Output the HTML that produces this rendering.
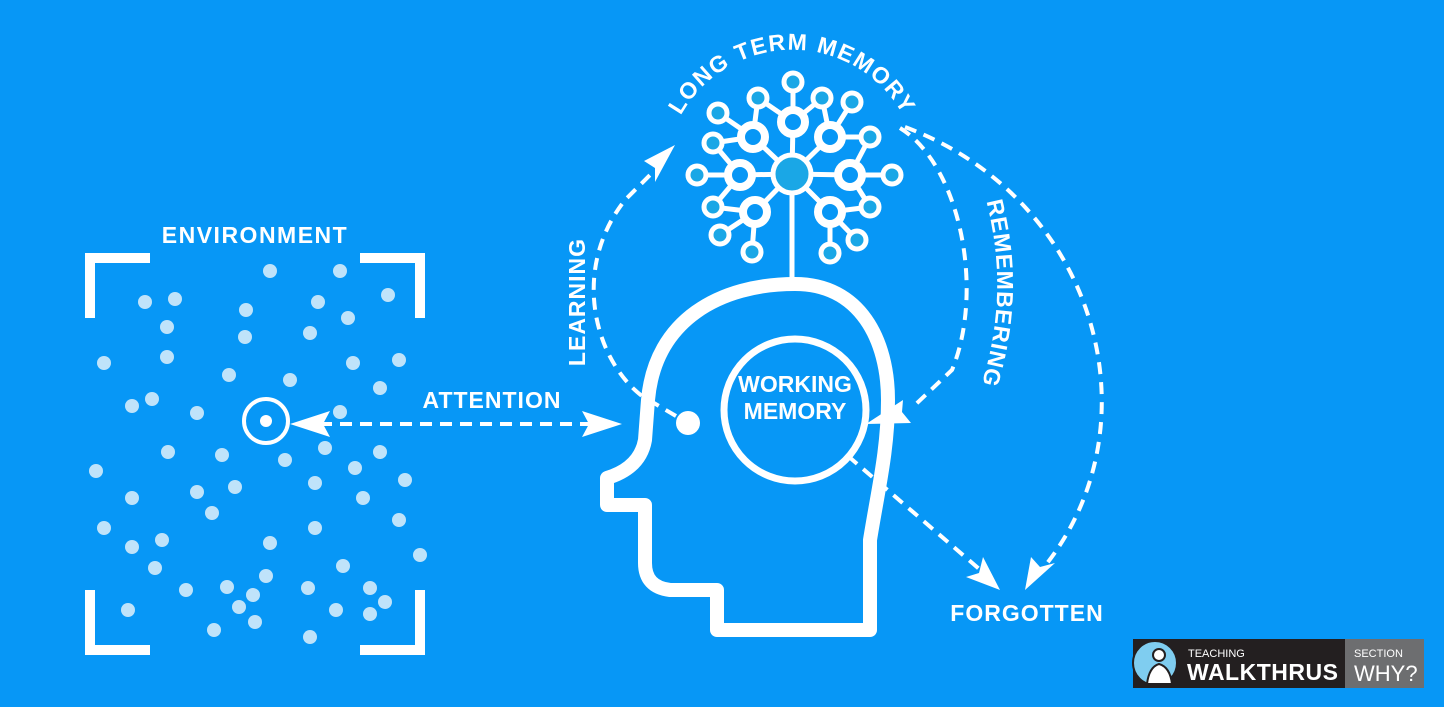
<!DOCTYPE html>
<html><head><meta charset="utf-8"><style>
html,body{margin:0;padding:0;background:#0797f6;}
svg{display:block;}
text{font-family:"Liberation Sans",sans-serif;font-weight:bold;fill:#fff;}
</style></head><body>
<svg width="1444" height="707" viewBox="0 0 1444 707" xmlns="http://www.w3.org/2000/svg">
<rect width="1444" height="707" fill="#0797f6"/>
<defs>
<path id="ltm" d="M 684,110 A 127,127 0 0 1 900,110"/>
<path id="rem" d="M 985,196 C 1002,260 1002,320 980,390"/>
</defs>
<!-- Environment -->
<text x="255" y="243" font-size="23" text-anchor="middle" letter-spacing="1.5">ENVIRONMENT</text>
<g stroke="#fff" stroke-width="10" fill="none">
<path d="M90,318 V258 H150"/><path d="M360,258 H420 V318"/>
<path d="M90,590 V650 H150"/><path d="M360,650 H420 V590"/>
</g>
<g fill="#bfe3fa">
<circle cx="270" cy="271" r="7"/><circle cx="340" cy="271" r="7"/><circle cx="388" cy="295" r="7"/>
<circle cx="145" cy="302" r="7"/><circle cx="175" cy="299" r="7"/><circle cx="246" cy="310" r="7"/><circle cx="318" cy="302" r="7"/><circle cx="348" cy="318" r="7"/>
<circle cx="167" cy="327" r="7"/><circle cx="245" cy="337" r="7"/><circle cx="310" cy="333" r="7"/>
<circle cx="104" cy="363" r="7"/><circle cx="167" cy="357" r="7"/><circle cx="353" cy="363" r="7"/><circle cx="399" cy="360" r="7"/>
<circle cx="229" cy="375" r="7"/><circle cx="290" cy="380" r="7"/><circle cx="380" cy="388" r="7"/>
<circle cx="132" cy="406" r="7"/><circle cx="152" cy="399" r="7"/><circle cx="197" cy="413" r="7"/><circle cx="340" cy="412" r="7"/>
<circle cx="325" cy="448" r="7"/><circle cx="285" cy="460" r="7"/><circle cx="222" cy="455" r="7"/><circle cx="168" cy="452" r="7"/><circle cx="380" cy="452" r="7"/>
<circle cx="96" cy="471" r="7"/><circle cx="355" cy="468" r="7"/><circle cx="405" cy="480" r="7"/>
<circle cx="132" cy="498" r="7"/><circle cx="197" cy="492" r="7"/><circle cx="235" cy="487" r="7"/><circle cx="315" cy="483" r="7"/><circle cx="363" cy="498" r="7"/>
<circle cx="212" cy="513" r="7"/><circle cx="104" cy="528" r="7"/><circle cx="315" cy="528" r="7"/><circle cx="399" cy="520" r="7"/>
<circle cx="132" cy="547" r="7"/><circle cx="162" cy="540" r="7"/><circle cx="270" cy="543" r="7"/><circle cx="420" cy="555" r="7"/>
<circle cx="155" cy="568" r="7"/><circle cx="266" cy="576" r="7"/><circle cx="343" cy="566" r="7"/>
<circle cx="186" cy="590" r="7"/><circle cx="227" cy="587" r="7"/><circle cx="253" cy="595" r="7"/><circle cx="308" cy="588" r="7"/><circle cx="370" cy="588" r="7"/>
<circle cx="128" cy="610" r="7"/><circle cx="239" cy="607" r="7"/><circle cx="336" cy="610" r="7"/><circle cx="370" cy="614" r="7"/><circle cx="385" cy="602" r="7"/>
<circle cx="214" cy="630" r="7"/><circle cx="255" cy="622" r="7"/><circle cx="310" cy="637" r="7"/>
</g>
<circle cx="266" cy="421" r="22" fill="none" stroke="#fff" stroke-width="4"/>
<circle cx="266" cy="421" r="6" fill="#fff"/>
<!-- attention -->
<text x="492" y="408" font-size="23" text-anchor="middle" letter-spacing="1">ATTENTION</text>
<line x1="320" y1="424" x2="590" y2="424" stroke="#fff" stroke-width="4" stroke-dasharray="12,8"/>
<polygon points="290,424 330,411 323,424 330,437" fill="#fff"/>
<polygon points="622,424 582,411 589,424 582,437" fill="#fff"/>
<!-- head -->
<path d="M607,505 L607,478 Q640,468 645,440 L648,400 C655,320 720,284 795,284 C860,284 888,340 888,400 C888,450 878,490 870,540 L870,630 L717,630 L717,590 L670,590 Q645,587 645,563 L645,505 Z" fill="none" stroke="#fff" stroke-width="14" stroke-linejoin="round"/>
<circle cx="795" cy="410" r="71" fill="none" stroke="#fff" stroke-width="7"/>
<text x="795" y="392" font-size="23" text-anchor="middle">WORKING</text>
<text x="795" y="419" font-size="23" text-anchor="middle">MEMORY</text>
<circle cx="688" cy="423" r="12" fill="#fff"/>
<!-- network -->
<g stroke="#fff" stroke-width="5">
<line x1="792" y1="174" x2="792" y2="280"/>
<line x1="792" y1="174" x2="753" y2="137"/><line x1="792" y1="174" x2="793" y2="122"/><line x1="792" y1="174" x2="830" y2="137"/>
<line x1="792" y1="174" x2="740" y2="175"/><line x1="792" y1="174" x2="850" y2="175"/><line x1="792" y1="174" x2="755" y2="212"/><line x1="792" y1="174" x2="830" y2="212"/>
<line x1="793" y1="122" x2="793" y2="82"/><line x1="793" y1="122" x2="758" y2="98"/><line x1="793" y1="122" x2="822" y2="98"/>
<line x1="753" y1="137" x2="758" y2="98"/><line x1="753" y1="137" x2="718" y2="113"/><line x1="753" y1="137" x2="713" y2="143"/>
<line x1="830" y1="137" x2="822" y2="98"/><line x1="830" y1="137" x2="852" y2="102"/><line x1="830" y1="137" x2="870" y2="137"/>
<line x1="740" y1="175" x2="697" y2="175"/><line x1="740" y1="175" x2="713" y2="143"/><line x1="740" y1="175" x2="713" y2="207"/>
<line x1="850" y1="175" x2="892" y2="175"/><line x1="850" y1="175" x2="870" y2="137"/><line x1="850" y1="175" x2="870" y2="207"/>
<line x1="755" y1="212" x2="713" y2="207"/><line x1="755" y1="212" x2="720" y2="235"/><line x1="755" y1="212" x2="752" y2="252"/>
<line x1="830" y1="212" x2="870" y2="207"/><line x1="830" y1="212" x2="857" y2="240"/><line x1="830" y1="212" x2="830" y2="253"/>
</g>
<g fill="#0797f6" stroke="#fff" stroke-width="8">
<circle cx="753" cy="137" r="12"/><circle cx="793" cy="122" r="12"/><circle cx="830" cy="137" r="12"/>
<circle cx="740" cy="175" r="12"/><circle cx="850" cy="175" r="12"/><circle cx="755" cy="212" r="12"/><circle cx="830" cy="212" r="12"/>
</g>
<g fill="#1aa7e6" stroke="#fff" stroke-width="5">
<circle cx="792" cy="174" r="19"/>
<circle cx="793" cy="82" r="9"/><circle cx="758" cy="98" r="9"/><circle cx="822" cy="98" r="9"/><circle cx="852" cy="102" r="9"/>
<circle cx="718" cy="113" r="9"/><circle cx="870" cy="137" r="9"/><circle cx="713" cy="143" r="9"/><circle cx="697" cy="175" r="9"/>
<circle cx="892" cy="175" r="9"/><circle cx="713" cy="207" r="9"/><circle cx="870" cy="207" r="9"/><circle cx="720" cy="235" r="9"/>
<circle cx="857" cy="240" r="9"/><circle cx="752" cy="252" r="9"/><circle cx="830" cy="253" r="9"/>
</g>
<text font-size="23" letter-spacing="1.5"><textPath href="#ltm" startOffset="50%" text-anchor="middle">LONG TERM MEMORY</textPath></text>
<!-- arrows -->
<g fill="none" stroke="#fff" stroke-width="4" stroke-dasharray="12,8">
<path d="M676,416 L642,396 C595,360 570,270 625,200 L655,170"/>
<path d="M900,128 C960,165 985,290 952,370 L915,405"/>
<path d="M905,127 C1100,200 1160,430 1040,572"/>
<path d="M848,456 L985,574"/>
</g>
<polygon points="675,145 644,161 655,168 655,182" fill="#fff"/>
<polygon points="866,424 903,400 902,412 911,423" fill="#fff"/>
<polygon points="1025,590 1031,557 1040,567 1055,563" fill="#fff"/>
<polygon points="1000,590 966,577 979,573 983,557" fill="#fff"/>
<text transform="translate(585,302) rotate(-90)" font-size="23" text-anchor="middle" letter-spacing="1">LEARNING</text>
<text font-size="23" letter-spacing="1"><textPath href="#rem" startOffset="50%" text-anchor="middle">REMEMBERING</textPath></text>
<text x="1027" y="621" font-size="23" text-anchor="middle" letter-spacing="1">FORGOTTEN</text>
<!-- logo -->
<rect x="1133" y="639" width="212" height="49" fill="#231f20"/>
<rect x="1345" y="639" width="79" height="49" fill="#6d6e70"/>
<circle cx="1155" cy="663" r="22" fill="#7fcdf0" stroke="#231f20" stroke-width="2"/>
<g stroke="#231f20" stroke-width="2" fill="#fff"><circle cx="1159" cy="655" r="6"/><path d="M1147,684 Q1149,667 1159,664 Q1170,667 1172,684 Z"/></g>
<text x="1188" y="657" font-size="11" style="font-weight:normal">TEACHING</text>
<text x="1187" y="680" font-size="23" letter-spacing="0.5">WALKTHRUS</text>
<text x="1354" y="657" font-size="11" style="font-weight:normal">SECTION</text>
<text x="1354" y="681" font-size="22" style="font-weight:normal">WHY?</text>
</svg>
</body></html>
